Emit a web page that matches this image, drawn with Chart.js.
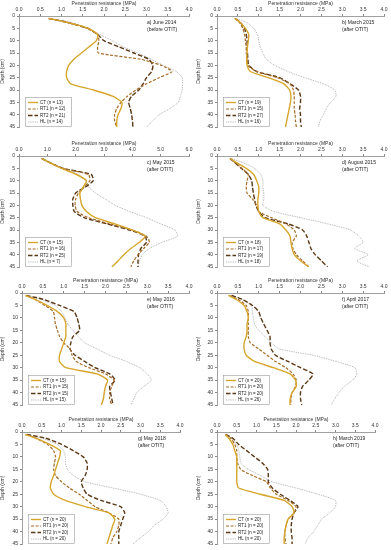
<!DOCTYPE html>
<html>
<head>
<meta charset="utf-8">
<script src="https://cdn.jsdelivr.net/npm/chart.js@4.4.0/dist/chart.umd.min.js"></script>
<style>
body { margin: 0; background: #fff; width: 391px; height: 550px; position: relative; overflow: hidden; }
canvas { position: absolute; }
</style>
</head>
<body>
<script>
// depth (cm) at which every profile was read
const DEPTH = [1, 2.5, 5, 7.5, 10, 12.5, 15, 17.5, 20, 22.5, 25, 27.5, 30, 32.5, 35, 37.5, 40, 42.5, 45];

// a) June 2014
const ctA  = [0.70, 1.12, 1.63, 1.85, 1.82, 1.65, 1.47, 1.29, 1.17, 1.12, 1.12, 1.22, 1.75, 2.20, 2.42, 2.40, 2.33, 2.30, 2.30];
const rt1A = [0.70, 1.10, 1.60, 1.85, 1.88, 1.85, 1.87, 2.85, 3.35, 3.60, 3.30, 3.00, 2.75, 2.55, 2.40, 2.30, 2.25, 2.25, 2.30];
const rt2A = [0.70, 1.12, 1.62, 1.85, 2.00, 2.35, 2.70, 3.05, 3.15, 3.12, 3.00, 2.92, 2.82, 2.65, 2.58, 2.62, 2.65, 2.67, 2.68];
const hlA  = [0.75, 1.20, 1.60, 1.90, 2.20, 2.45, 2.80, 3.10, 3.40, 3.70, 3.84, 3.85, 3.84, 3.80, 3.75, 3.55, 3.30, 3.15, 3.00];
// b) March 2015
const ctB  = [0.43, 0.55, 0.68, 0.76, 0.75, 0.73, 0.72, 0.71, 0.72, 0.80, 1.23, 1.60, 1.74, 1.77, 1.76, 1.73, 1.70, 1.67, 1.64];
const rt1B = [0.43, 0.53, 0.62, 0.66, 0.68, 0.70, 0.70, 0.72, 0.74, 0.95, 1.45, 1.75, 1.83, 1.85, 1.85, 1.85, 1.87, 1.88, 1.90];
const rt2B = [0.43, 0.55, 0.66, 0.70, 0.72, 0.72, 0.73, 0.74, 0.76, 0.95, 1.50, 1.75, 1.95, 2.00, 2.00, 1.98, 2.00, 2.00, 2.02];
const hlB  = [0.45, 0.70, 0.88, 0.97, 1.00, 1.03, 1.10, 1.18, 1.38, 1.70, 2.10, 2.55, 2.82, 2.85, 2.72, 2.62, 2.55, 2.47, 2.42];
// c) May 2015
const ctC  = [0.80, 1.05, 1.50, 2.03, 2.38, 2.27, 2.15, 2.17, 2.22, 2.38, 2.70, 3.38, 4.00, 4.45, 4.25, 3.95, 3.70, 3.50, 3.28];
const rt1C = [0.80, 1.05, 1.55, 2.45, 2.50, 2.30, 2.10, 2.00, 1.98, 2.05, 2.45, 3.20, 4.00, 4.50, 4.60, 4.40, 4.20, 4.05, 3.95];
const rt2C = [0.80, 1.05, 1.55, 2.55, 2.62, 2.35, 2.00, 1.90, 1.90, 1.95, 2.30, 3.10, 3.90, 4.45, 4.50, 4.30, 4.22, 4.20, 4.20];
const hlC  = [0.85, 1.10, 1.50, 2.10, 2.35, 2.45, 2.70, 3.05, 3.40, 3.90, 4.50, 5.00, 5.50, 5.60, 5.05, 4.60, 4.35, 4.25, 4.20];
// d) August 2015
const ctD  = [0.31, 0.45, 0.70, 0.88, 0.95, 1.00, 1.00, 0.98, 0.98, 1.00, 1.10, 1.50, 1.65, 1.75, 1.77, 1.80, 1.85, 2.00, 2.20];
const rt1D = [0.31, 0.42, 0.60, 0.75, 0.72, 0.70, 0.72, 0.85, 0.95, 1.00, 1.30, 1.65, 1.85, 1.90, 1.80, 1.82, 1.90, 2.05, 2.20];
const rt2D = [0.31, 0.42, 0.58, 0.75, 0.83, 0.85, 0.87, 0.90, 0.93, 1.00, 1.15, 1.70, 2.05, 2.15, 2.20, 2.25, 2.35, 2.50, 2.65];
const hlD  = [0.33, 0.60, 0.90, 1.05, 1.10, 1.10, 1.12, 1.12, 1.10, 1.35, 2.00, 2.65, 3.20, 3.40, 3.50, 3.30, 3.62, 3.35, 3.65];
// e) May 2016
const ctE  = [0.08, 0.30, 0.60, 0.85, 1.00, 1.05, 1.05, 1.05, 1.00, 0.95, 0.90, 0.90, 1.05, 1.80, 2.05, 2.00, 1.97, 1.95, 1.90];
const rt1E = [0.10, 0.30, 0.55, 0.75, 0.78, 0.80, 0.85, 0.90, 1.00, 1.15, 1.20, 1.30, 1.60, 2.00, 2.20, 2.15, 2.10, 2.10, 2.15];
const rt2E = [0.10, 0.50, 0.90, 1.25, 1.32, 1.36, 1.38, 1.22, 1.17, 1.15, 1.27, 1.50, 1.75, 2.10, 2.23, 2.10, 2.12, 2.15, 2.18];
const hlE  = [0.10, 0.45, 0.80, 0.95, 1.03, 1.10, 1.22, 1.35, 1.50, 1.80, 2.10, 2.50, 2.82, 3.00, 3.10, 2.92, 2.75, 2.68, 2.62];
// f) April 2017
const ctF  = [0.27, 0.45, 0.65, 0.72, 0.75, 0.72, 0.72, 0.70, 0.65, 0.65, 0.70, 0.90, 1.35, 1.75, 1.88, 1.90, 1.80, 1.75, 1.75];
const rt1F = [0.30, 0.50, 0.70, 0.75, 0.75, 0.75, 0.75, 0.75, 0.80, 1.00, 1.20, 1.40, 1.65, 1.82, 1.90, 1.88, 1.80, 1.77, 1.77];
const rt2F = [0.35, 0.60, 0.85, 1.00, 1.05, 1.12, 1.20, 1.27, 1.27, 1.30, 1.40, 1.70, 2.00, 2.30, 2.20, 2.05, 2.00, 2.00, 2.03];
const hlF  = [0.35, 0.60, 0.82, 0.85, 0.87, 0.90, 1.00, 1.15, 1.30, 1.50, 2.30, 2.85, 3.30, 3.35, 3.25, 3.05, 2.92, 2.82, 2.74];
// g) May 2018
const ctG  = [0.08, 0.35, 0.70, 0.97, 0.95, 0.90, 0.85, 0.80, 0.74, 0.72, 0.80, 1.10, 1.60, 2.20, 2.35, 2.30, 2.25, 2.20, 2.15];
const rt1G = [0.10, 0.35, 0.65, 0.80, 0.85, 0.82, 0.80, 0.85, 1.00, 1.20, 1.45, 1.65, 1.85, 2.20, 2.45, 2.45, 2.40, 2.30, 2.25];
const rt2G = [0.12, 0.60, 1.00, 1.30, 1.55, 1.65, 1.65, 1.60, 1.50, 1.55, 1.65, 2.00, 2.50, 2.60, 2.55, 2.50, 2.45, 2.45, 2.45];
const hlG  = [0.10, 0.50, 0.90, 1.05, 1.10, 1.10, 1.15, 1.30, 1.60, 2.30, 3.00, 3.50, 3.65, 3.70, 3.57, 3.35, 3.20, 3.00, 2.80];
// h) March 2019
const ctH  = [0.21, 0.30, 0.40, 0.45, 0.50, 0.50, 0.50, 0.50, 0.50, 0.55, 1.10, 1.70, 1.90, 1.95, 1.80, 1.75, 1.72, 1.70, 1.70];
const rt1H = [0.22, 0.35, 0.45, 0.50, 0.50, 0.52, 0.60, 0.90, 1.25, 1.35, 1.50, 1.80, 2.00, 1.95, 1.80, 1.75, 1.72, 1.72, 1.75];
const rt2H = [0.22, 0.40, 0.55, 0.75, 0.95, 1.15, 1.28, 1.30, 1.30, 1.40, 1.60, 1.85, 2.05, 1.95, 1.90, 1.88, 1.88, 1.90, 1.90];
const hlH  = [0.20, 0.35, 0.50, 0.55, 0.58, 0.60, 0.80, 1.10, 1.40, 2.00, 2.56, 3.00, 3.00, 2.85, 2.65, 2.55, 2.45, 2.30, 2.23];

// sample sizes per panel: CT, RT1, RT2, HL
const nA = [13, 12, 21, 14];
const nB = [19, 15, 27, 16];
const nC = [15, 16, 25, 7];
const nD = [18, 17, 19, 18];
const nE = [15, 15, 15, 15];
const nF = [20, 20, 20, 26];
const nG = [20, 20, 20, 20];
const nH = [20, 20, 20, 20];

const TREATMENTS = ['CT', 'RT1', 'RT2', 'HL'];
const STYLES = [
    { color: '#D6A62C', width: 1.4, dash: [] },
    { color: '#A66B24', width: 1.2, dash: [3, 1.6] },
    { color: '#5A3816', width: 1.4, dash: [4.5, 2] },
    { color: '#A8A8A8', width: 0.9, dash: [0.9, 0.9] }
];

const panels = [
    { title: ['a) June 2014', '(before OTIT)'], series: [ctA, rt1A, rt2A, hlA], n: nA, xMax: 4, step: 0.5, left: 0, area: { l: 19, t: 16, r: 189, b: 128 } },
    { title: ['b) March 2015', '(after OTIT)'], series: [ctB, rt1B, rt2B, hlB], n: nB, xMax: 4, step: 0.5, left: 196, area: { l: 217, t: 16, r: 384, b: 128 } },
    { title: ['c) May 2015', '(after OTIT)'], series: [ctC, rt1C, rt2C, hlC], n: nC, xMax: 6, step: 1, left: 0, area: { l: 19, t: 156, r: 189, b: 268 } },
    { title: ['d) August 2015', '(after OTIT)'], series: [ctD, rt1D, rt2D, hlD], n: nD, xMax: 4, step: 0.5, left: 196, area: { l: 217, t: 156, r: 384, b: 268 } },
    { title: ['e) May 2016', '(after OTIT)'], series: [ctE, rt1E, rt2E, hlE], n: nE, xMax: 4, step: 0.5, left: 0, area: { l: 22, t: 293, r: 189, b: 406 } },
    { title: ['f) April 2017', '(after OTIT)'], series: [ctF, rt1F, rt2F, hlF], n: nF, xMax: 4, step: 0.5, left: 196, area: { l: 217, t: 293, r: 384, b: 406 } },
    { title: ['g) May 2018', '(after OTIT)'], series: [ctG, rt1G, rt2G, hlG], n: nG, xMax: 4, step: 0.5, left: 0, area: { l: 22, t: 432, r: 180, b: 545 } },
    { title: ['h) March 2019', '(after OTIT)'], series: [ctH, rt1H, rt2H, hlH], n: nH, xMax: 4, step: 0.5, left: 196, area: { l: 217, t: 432, r: 375, b: 545 } }
];

Chart.defaults.font.family = '"Liberation Sans", Arial, sans-serif';
Chart.defaults.font.size = 5;
Chart.defaults.color = '#333';

// legend box in the lower left corner and the date note in the upper right
const panelDecor = {
    id: 'panelDecor',
    afterDraw(chart, args, opts) {
        const ctx = chart.ctx;
        const a = chart.chartArea;
        ctx.save();
        const bw = 46, bh = 30;
        const bx = a.left + 6, by = a.bottom - bh;
        ctx.fillStyle = '#fff';
        ctx.fillRect(bx, by, bw, bh);
        ctx.strokeStyle = '#9a9a9a';
        ctx.lineWidth = 0.6;
        ctx.strokeRect(bx + 0.5, by + 0.5, bw, bh - 1);
        chart.data.datasets.forEach((ds, i) => {
            const y = by + 5.5 + i * 6.5;
            ctx.strokeStyle = ds.borderColor;
            ctx.lineWidth = ds.borderWidth;
            ctx.setLineDash(ds.borderDash);
            ctx.beginPath();
            ctx.moveTo(bx + 3, y);
            ctx.lineTo(bx + 13, y);
            ctx.stroke();
            ctx.setLineDash([]);
            ctx.fillStyle = '#222';
            ctx.font = '4.5px "Liberation Sans"';
            ctx.textBaseline = 'middle';
            ctx.fillText(ds.label, bx + 15, y);
        });
        ctx.fillStyle = '#222';
        ctx.font = '5px "Liberation Sans"';
        ctx.textBaseline = 'middle';
        ctx.fillText(opts.title[0], a.right - 42, a.top + 7);
        ctx.fillText(opts.title[1], a.right - 42, a.top + 14);
        ctx.restore();
    }
};

function drawPanel(p) {
    const cv = document.createElement('canvas');
    const top = p.area.t - 16;
    const w = p.area.r - p.left + 6;
    const h = p.area.b - top + 4;
    cv.width = w;
    cv.height = h;
    cv.style.left = p.left + 'px';
    cv.style.top = top + 'px';
    cv.style.width = w + 'px';
    cv.style.height = h + 'px';
    document.body.appendChild(cv);
    const yW = p.area.l - p.left;

    const datasets = p.series.map((vals, i) => ({
        label: TREATMENTS[i] + ' (n = ' + p.n[i] + ')',
        data: DEPTH.map((d, k) => ({ x: vals[k], y: d })),
        borderColor: STYLES[i].color,
        borderWidth: STYLES[i].width,
        borderDash: STYLES[i].dash,
        pointRadius: 0,
        fill: false,
        tension: 0.2
    }));

    new Chart(cv, {
        type: 'line',
        data: { datasets: datasets },
        options: {
            responsive: false,
            animation: false,
            devicePixelRatio: 1,
            layout: { padding: { left: 0, right: 6, top: 0, bottom: 4 } },
            plugins: {
                legend: { display: false },
                tooltip: { enabled: false },
                panelDecor: { title: p.title }
            },
            scales: {
                x: {
                    type: 'linear',
                    position: 'top',
                    min: 0,
                    max: p.xMax,
                    ticks: { stepSize: p.step, padding: 1, callback: v => v.toFixed(1) },
                    grid: { drawOnChartArea: false, tickLength: 2, color: '#888' },
                    border: { color: '#888', width: 0.8 },
                    title: { display: true, text: 'Penetration resistance (MPa)', padding: { top: 1, bottom: 0 } },
                    afterFit: s => { s.height = 16; }
                },
                y: {
                    type: 'linear',
                    reverse: true,
                    min: 0,
                    max: 45,
                    ticks: { stepSize: 5, padding: 2 },
                    grid: { drawOnChartArea: false, tickLength: 2, color: '#888' },
                    border: { color: '#888', width: 0.8 },
                    title: { display: true, text: 'Depth (cm)', padding: 0 },
                    afterFit: s => { s.width = yW; }
                }
            }
        },
        plugins: [panelDecor]
    });
}

panels.forEach(drawPanel);
</script>
</body>
</html>
